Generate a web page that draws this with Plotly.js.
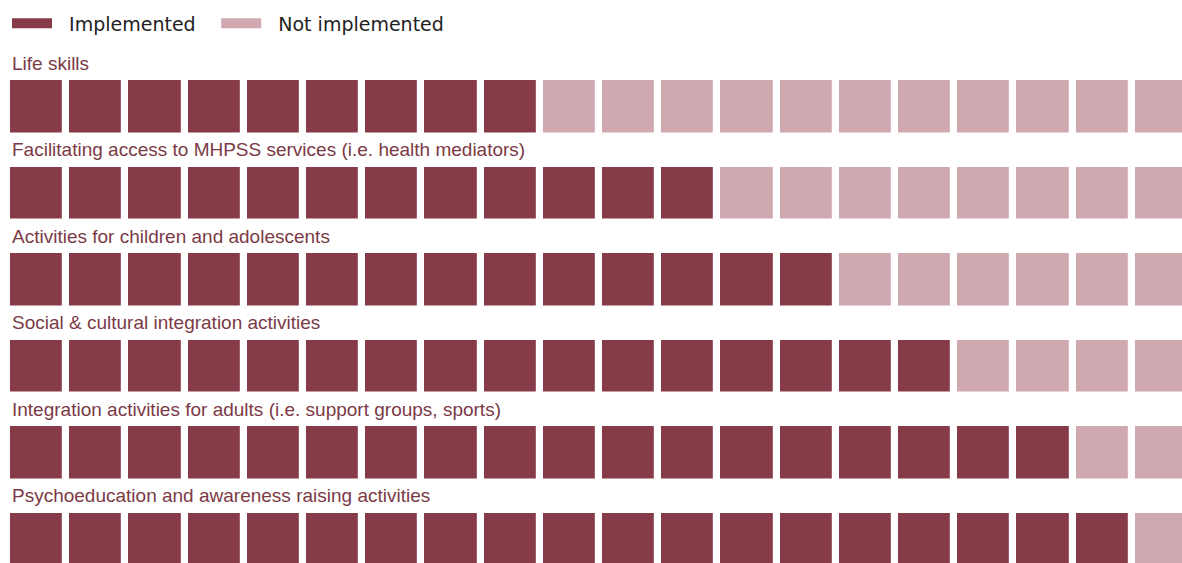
<!DOCTYPE html>
<html>
<head>
<meta charset="utf-8">
<script src="https://cdn.plot.ly/plotly-3.0.1.min.js"></script>
<style>
html,body{margin:0;padding:0;overflow:hidden;background:#fff;}
#chart{width:1192px;height:582px;}
</style>
</head>
<body>
<div id="chart"></div>
<script>
// Data
const activities = [
  "Life skills",
  "Facilitating access to MHPSS services (i.e. health mediators)",
  "Activities for children and adolescents",
  "Social & cultural integration activities",
  "Integration activities for adults (i.e. support groups, sports)",
  "Psychoeducation and awareness raising activities"
];
const implementedCounts = [9, 12, 14, 16, 18, 19];
const totalUnits = 20;
const seriesNames = ["Implemented", "Not implemented"];

const darkColor = "#873b49";
const lightColor = "#d0a9b0";
const labelColor = "#7b3a46";

// Build cell grid (1 = implemented, 0 = not implemented)
const cols = Array.from({length: totalUnits}, (_, i) => i);
const rows = activities.map((_, i) => i);
const z = implementedCounts.map(n => cols.map(c => (c < n ? 1 : 0)));

const heat = {
  type: "heatmap",
  x: cols,
  y: rows,
  z: z,
  zmin: 0,
  zmax: 1,
  colorscale: [[0, lightColor], [0.5, lightColor], [0.5, darkColor], [1, darkColor]],
  showscale: false,
  xgap: 7.2,
  ygap: 34.5,
  hoverinfo: "skip",
  showlegend: false
};

const legendTraces = seriesNames.map((name, i) => ({
  type: "scatter",
  mode: "lines",
  x: [null],
  y: [null],
  name: "\u00a0\u00a0" + name + (i === 0 ? "\u2002\u00a0" : ""),
  line: {color: i === 0 ? darkColor : lightColor, width: 13},
  hoverinfo: "skip",
  showlegend: true
}));

const annotations = activities.map((label, i) => ({
  text: label,
  xref: "x",
  yref: "y",
  x: -0.5,
  y: i - 0.5,
  xanchor: "left",
  yanchor: "middle",
  xshift: 3,
  showarrow: false,
  font: {family: "Liberation Sans, Arial, sans-serif", size: 19, color: labelColor}
}));

const layout = {
  width: 1192,
  height: 582,
  margin: {l: 7, r: 1, t: 63, b: 0, pad: 0},
  paper_bgcolor: "#ffffff",
  plot_bgcolor: "#ffffff",
  xaxis: {range: [-0.5, totalUnits - 0.5], visible: false, fixedrange: true},
  yaxis: {range: [activities.length - 0.5, -0.5], visible: false, fixedrange: true},
  showlegend: true,
  legend: {
    orientation: "h",
    x: 0,
    xanchor: "left",
    y: 1.0761,
    yanchor: "middle",
    font: {family: "DejaVu Sans, sans-serif", size: 19, color: "#222222"},
    itemwidth: 40,
    bgcolor: "rgba(0,0,0,0)",
    traceorder: "normal"
  },
  annotations: annotations
};

Plotly.newPlot("chart", [heat].concat(legendTraces), layout, {displayModeBar: false, staticPlot: true});
</script>
</body>
</html>
